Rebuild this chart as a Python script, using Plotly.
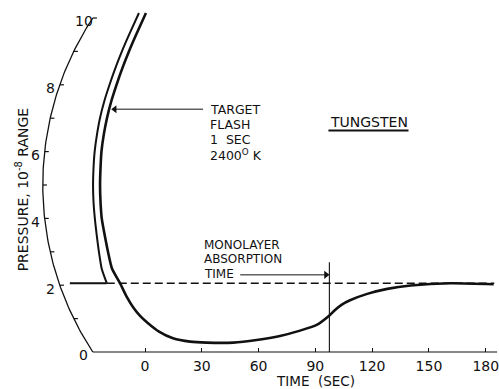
import numpy as np
import plotly.graph_objects as go

# ---------------- data (time in s along the chart, pressure in 1e-8 range units) -------------
time_ticks = [0, 30, 60, 90, 120, 150, 180]
pressure_ticks = [0, 2, 4, 6, 8, 10]
pressure_minor = [1, 2, 3, 4, 5, 6, 7, 8, 9, 10]

# pre-flash baseline trace (solid)
pre_t = [-39.7, -20.2]
pre_p = [2.06, 2.06]

# rise during the flash (inner stroke)
rise_p = [2.06, 2.5, 3.0, 3.5, 4.0, 4.5, 5.0, 5.5, 6.0, 6.5, 7.0, 7.5, 8.0, 8.5, 9.0, 9.5, 10.15]
rise_t = [-20.2, -22.9, -24.35, -25.5, -26.5, -27.2, -27.45, -27.2, -26.6, -25.4, -23.8,
          -21.55, -18.75, -15.65, -12.2, -8.4, -3.2]

# pump-down / re-absorption curve (outer stroke)
decay_t = [0.5, -4.7, -8.5, -11.95, -15.05, -17.85, -20.1, -21.8, -23.0, -23.5, -23.75,
           -23.5, -22.85, -21.3, -19.55, -17.45, -13.2, -9.7, -5.8, -2.6, 1.6, 7.4, 14.8,
           23.8, 32.6, 46.6, 59.0, 71.3, 81.9, 90.7, 96.8, 100.4, 104.0, 108.3, 117.4, 128.0,
           140.3, 161.5, 184.2]
decay_p = [10.15, 9.5, 9.0, 8.5, 8.0, 7.5, 7.0, 6.5, 6.0, 5.5, 5.0,
           4.5, 4.0, 3.5, 3.0, 2.5, 2.06, 1.66, 1.3, 1.08, 0.86, 0.61, 0.41,
           0.31, 0.28, 0.28, 0.36, 0.48, 0.64, 0.81, 1.06, 1.26, 1.42, 1.55, 1.74, 1.89,
           1.99, 2.06, 2.03]

# dashed equilibrium level
level_p = 2.06
level_t = [-20.2, 184.5]

# monolayer absorption time marker
mono_t = 97.4
mono_p = [0.0, 2.69]

# recorder arc (ordinate) geometry
ARC_T0 = -54.0      # time position of leftmost point of arc
ARC_RT = 160.6      # arc radius in time units
ARC_RP = 9.10       # arc radius in pressure units
ARC_PC = 5.0        # pressure at arc centre


def arc_t(p):
    p = np.asarray(p, dtype=float)
    return ARC_T0 + ARC_RT * (1 - np.sqrt(1 - ((p - ARC_PC) / ARC_RP) ** 2))


FONT = "DejaVu Sans"
INK = "#111111"

fig = go.Figure()


def line(x, y, width, dash=None, shape="linear"):
    fig.add_trace(go.Scatter(x=x, y=y, mode="lines", line_shape=shape,
                             line=dict(color=INK, width=width, dash=dash, smoothing=0.6),
                             hoverinfo="skip"))


# baseline (time axis line)
line([float(arc_t(0)), 186.0], [0, 0], 1.2)

# arc axis
pa = np.linspace(0, 10, 120)
line(arc_t(pa), pa, 1.3)
# arc ticks
tx, ty = [], []
for p in pressure_minor:
    a = float(arc_t(p))
    tx += [a, a + 2.2, None]
    ty += [p, p, None]
line(tx, ty, 1.2)

# pre-flash solid level, dashed level
line(pre_t, pre_p, 2)
line(level_t, [level_p, level_p], 1.4, dash="8px,4px")
# rise and decay strokes
line(rise_t, rise_p, 2, shape="spline")
line(decay_t, decay_p, 2.6, shape="spline")
# monolayer marker
line([mono_t, mono_t], mono_p, 1.1)
# TUNGSTEN underline
line([96.9, 139.2], [6.63, 6.63], 2)

# pointer arrows (shaft + head)
line([30.7, -16.8], [7.27, 7.27], 1)
line([50.3, 96.6], [2.31, 2.31], 1)
fig.add_trace(go.Scatter(x=[-16.0, 95.6], y=[7.27, 2.31], mode="markers", hoverinfo="skip",
                         marker=dict(symbol=["triangle-left", "triangle-right"], size=7,
                                     color=INK, line=dict(width=0))))

ann = []
# pressure labels
for p in pressure_ticks:
    ann.append(dict(x=float(arc_t(p)) - 4.8, y=p - 0.1, text=str(p), showarrow=False,
                    xanchor="center", yanchor="middle", font=dict(size=14, family=FONT, color=INK)))
# axis titles
ann.append(dict(x=-64.8, y=4.85, text="PRESSURE, 10<sup>-8</sup> RANGE", textangle=-90,
                showarrow=False, font=dict(size=14, family=FONT, color=INK)))
ann.append(dict(x=90, y=-0.87, text="TIME  (SEC)", showarrow=False,
                font=dict(size=13.5, family=FONT, color=INK)))
# text blocks
for txt, p in [("TARGET", 7.25), ("FLASH", 6.80), ("1  SEC", 6.35), ("2400<sup>O</sup> K", 5.90)]:
    ann.append(dict(x=33.4, y=p, text=txt, showarrow=False, xanchor="left", yanchor="middle",
                    font=dict(size=12.5, family=FONT, color=INK)))
for txt, p in [("MONOLAYER", 3.19), ("ABSORPTION", 2.77), ("TIME", 2.35)]:
    ann.append(dict(x=30.0, y=p, text=txt, showarrow=False, xanchor="left", yanchor="middle",
                    font=dict(size=12, family=FONT, color=INK)))
ann.append(dict(x=118.1, y=6.89, text="TUNGSTEN", showarrow=False,
                font=dict(size=14, family=FONT, color=INK)))

fig.update_layout(
    width=499, height=389, margin=dict(l=0, r=0, t=0, b=0),
    paper_bgcolor="white", plot_bgcolor="white", showlegend=False,
    annotations=ann, hovermode=False,
    xaxis=dict(range=[-145 / 1.893, (499 - 145) / 1.893], anchor="free", position=37 / 389,
               tickvals=time_ticks, ticktext=[str(t) for t in time_ticks],
               ticks="inside", ticklen=4, tickwidth=1, tickcolor=INK,
               ticklabelstandoff=4, ticklabeloverflow="allow",
               showgrid=False, zeroline=False, showline=False,
               tickfont=dict(size=14, family=FONT, color=INK)),
    yaxis=dict(range=[-37 / 33.4, 352 / 33.4], visible=False, showgrid=False, zeroline=False),
)

fig.write_html("out.html")
